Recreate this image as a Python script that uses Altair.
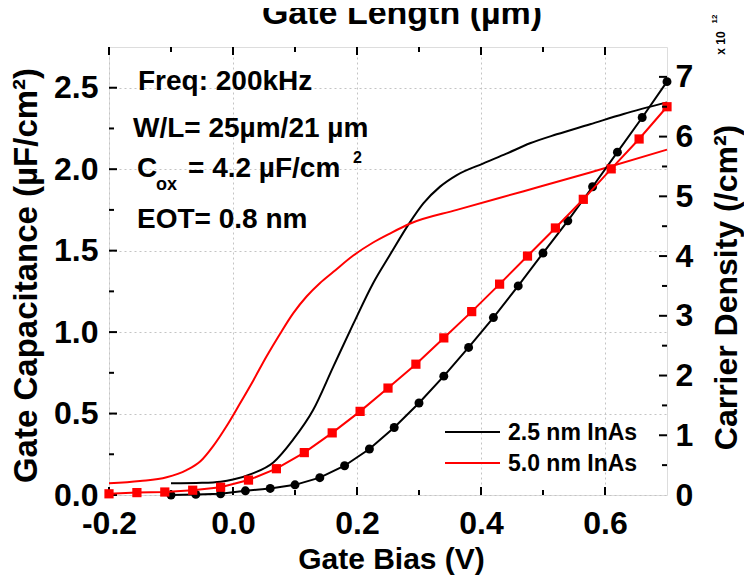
import altair as alt
import pandas as pd

FONT = "Liberation Sans"

# ---------------- data ----------------
SERIES = ["2.5 nm InAs", "5.0 nm InAs"]

# Gate capacitance (left axis, uF/cm2)
CV25_V = [-0.10, -0.05, -0.02, 0.00, 0.032, 0.065, 0.097, 0.129, 0.162, 0.194, 0.226,
          0.253, 0.285, 0.307, 0.334, 0.361, 0.404, 0.441, 0.479, 0.522, 0.576, 0.630, 0.700]
CV25_C = [0.072, 0.075, 0.082, 0.095, 0.133, 0.20, 0.34, 0.52, 0.79, 1.05, 1.30,
          1.473, 1.672, 1.790, 1.893, 1.964, 2.036, 2.095, 2.159, 2.214, 2.276, 2.339, 2.41]

CV50_V = [-0.20, -0.15, -0.107, -0.075, -0.053, -0.032, -0.010, 0.011, 0.033, 0.054, 0.076,
          0.097, 0.119, 0.140, 0.162, 0.194, 0.226, 0.253, 0.285, 0.361, 0.469, 0.576, 0.700]
CV50_C = [0.072, 0.086, 0.109, 0.153, 0.205, 0.30, 0.425, 0.56, 0.705, 0.85, 0.99,
          1.115, 1.22, 1.30, 1.37, 1.47, 1.55, 1.605, 1.665, 1.75, 1.865, 1.98, 2.12]

# Carrier density (right axis, x 1e12 /cm2)
N25_V = [-0.10, -0.06, -0.02, 0.02, 0.06, 0.10, 0.14, 0.18, 0.22, 0.26, 0.30,
         0.34, 0.38, 0.42, 0.46, 0.50, 0.54, 0.58, 0.62, 0.66, 0.70]
N25_N = [0.00, 0.01, 0.02, 0.07, 0.11, 0.17, 0.29, 0.49, 0.77, 1.13, 1.54,
         1.99, 2.47, 2.97, 3.50, 4.05, 4.59, 5.16, 5.74, 6.32, 6.92]

N50_V = [-0.200, -0.155, -0.110, -0.065, -0.020, 0.025, 0.070, 0.115, 0.160, 0.205, 0.250,
         0.295, 0.340, 0.385, 0.430, 0.475, 0.520, 0.565, 0.610, 0.655, 0.700]
N50_N = [0.02, 0.04, 0.05, 0.08, 0.13, 0.25, 0.44, 0.71, 1.04, 1.40, 1.79,
         2.19, 2.63, 3.07, 3.53, 4.00, 4.47, 4.95, 5.46, 5.96, 6.50]

# axis ticks
X_MAJOR = [-0.2, 0.0, 0.2, 0.4, 0.6]
X_MINOR = [-0.1, 0.1, 0.3, 0.5]
C_MAJOR = [0.0, 0.5, 1.0, 1.5, 2.0, 2.5]
C_MINOR = [0.25, 0.75, 1.25, 1.75, 2.25]
N_LABELS = [0, 1, 2, 3, 4, 5, 6, 7]
N_MAJOR = [1, 2, 3, 4, 5, 6, 7]
N_MINOR = [0.5, 1.5, 2.5, 3.5, 4.5, 5.5, 6.5]

# texts
TOP_TITLE = "Gate Length (µm)"
X_TITLE = "Gate Bias (V)"
YL_TITLE = "Gate Capacitance (µF/cm²)"
YR_TITLE = "Carrier Density (/cm²)"
NOTE_FREQ = "Freq: 200kHz"
NOTE_WL = "W/L= 25µm/21 µm"
NOTE_C = "C"
NOTE_OX = "ox"
NOTE_COX = "= 4.2 µF/cm"
NOTE_SUP = "2"
NOTE_EOT = "EOT= 0.8 nm"
EXP_BASE = "x 10"
EXP_POW = "12"

BLACK = "#000000"
RED = "#ff0000"

W, H = 558, 448

xs = alt.Scale(domain=[-0.2, 0.7], nice=False, zero=False)
yl = alt.Scale(domain=[0, 2.75], nice=False, zero=False)
yr = alt.Scale(domain=[0, 7.5], nice=False, zero=False)

one = alt.Data(values=[{}])

cv25 = pd.DataFrame({"v": CV25_V, "c": CV25_C})
cv50 = pd.DataFrame({"v": CV50_V, "c": CV50_C})
n25 = pd.DataFrame({"v": N25_V, "n": N25_N})
n50 = pd.DataFrame({"v": N50_V, "n": N50_N})

x_axis = alt.Axis(
    values=X_MAJOR,
    labelExpr="datum.value < 0 ? '-' + format(-datum.value, '.1f') : format(datum.value, '.1f')",
    labelFont=FONT, labelFontSize=32, labelFontWeight="bold", labelColor="black",
    labelBaseline="alphabetic", labelPadding=38, labelFlush=False, labelOverlap=False,
    ticks=False, tickSize=0, domain=False,
    grid=True, gridDash=[2, 3], gridColor="#c4c4c4", gridWidth=1,
    title=X_TITLE, titleFont=FONT, titleFontSize=30, titleFontWeight="bold",
    titleColor="black", titleX=282, titleY=73, titleAlign="center",
    titleBaseline="alphabetic",
)

yl_axis = alt.Axis(
    values=C_MAJOR, format=".1f",
    labelFont=FONT, labelFontSize=32, labelFontWeight="bold", labelColor="black",
    labelPadding=11, labelOverlap=False, labelFlush=False,
    ticks=False, tickSize=0, domain=False,
    grid=True, gridDash=[2, 3], gridColor="#c4c4c4", gridWidth=1,
    title=YL_TITLE, titleFont=FONT, titleFontSize=33, titleFontWeight="bold",
    titleColor="black", titleAngle=270, titleX=-73, titleY=228,
    titleAlign="center", titleBaseline="alphabetic",
)

yr_axis = alt.Axis(
    orient="right", values=N_LABELS, format="d",
    labelFont=FONT, labelFontSize=32, labelFontWeight="bold", labelColor="black",
    labelPadding=8, labelOverlap=False, labelFlush=False,
    ticks=False, tickSize=0, domain=False, grid=False,
    title=YR_TITLE, titleFont=FONT, titleFontSize=32, titleFontWeight="bold",
    titleColor="black", titleAngle=270, titleX=69, titleY=240,
    titleAlign="center", titleBaseline="alphabetic",
)

X = dict(scale=xs, axis=x_axis)
YL = dict(scale=yl, axis=yl_axis)
YR = dict(scale=yr, axis=yr_axis)

# ---------------- left-scale layer ----------------
line25 = alt.Chart(cv25).mark_line(color=BLACK, strokeWidth=2, interpolate="monotone").encode(
    x=alt.X("v:Q", **X), y=alt.Y("c:Q", **YL))
line50 = alt.Chart(cv50).mark_line(color=RED, strokeWidth=2, interpolate="monotone").encode(
    x=alt.X("v:Q", **X), y=alt.Y("c:Q", **YL))


def xticks(vals, length):
    df = pd.DataFrame({"v": vals})
    bot = alt.Chart(df).mark_rule(color="black", strokeWidth=2).encode(
        x=alt.X("v:Q", **X), y=alt.value(H), y2=alt.value(H - length))
    top = alt.Chart(df).mark_rule(color="black", strokeWidth=2).encode(
        x=alt.X("v:Q", **X), y=alt.value(0), y2=alt.value(length))
    return [bot, top]


def lticks(vals, length):
    df = pd.DataFrame({"v": vals})
    return alt.Chart(df).mark_rule(color="black", strokeWidth=2).encode(
        y=alt.Y("v:Q", **YL), x=alt.value(0), x2=alt.value(length))


def rticks(vals, length):
    df = pd.DataFrame({"v": vals})
    return alt.Chart(df).mark_rule(color="black", strokeWidth=2).encode(
        y=alt.Y("v:Q", **YR), x=alt.value(W), x2=alt.value(W - length))


def label(text, x, y, size, align="left", baseline="alphabetic", angle=0, color="black"):
    kw = dict(font=FONT, fontSize=size, fontWeight="bold", align=align,
              baseline=baseline, color=color)
    if angle:
        kw["angle"] = angle
    return alt.Chart(one).mark_text(**kw).encode(
        x=alt.value(x), y=alt.value(y), text=alt.value(text))


notes = [
    label(NOTE_FREQ, 29, 43, 28),
    label(NOTE_WL, 24, 90, 28),
    label(NOTE_C, 28, 130, 28),
    label(NOTE_OX, 47, 143, 18),
    label(NOTE_COX, 79, 130, 28),
    label(NOTE_SUP, 244, 116, 16),
    label(NOTE_EOT, 28, 181, 28),
    label(TOP_TITLE, 293, -23, 34, align="center"),
    label(EXP_BASE, 612, -4, 12, align="center", baseline="middle", angle=270),
    label(EXP_POW, 606, -28, 8, align="center", baseline="middle", angle=270),
]

legend = [
    alt.Chart(one).mark_rule(color=BLACK, strokeWidth=2).encode(
        x=alt.value(336), x2=alt.value(391), y=alt.value(385)),
    alt.Chart(one).mark_rule(color=RED, strokeWidth=2).encode(
        x=alt.value(336), x2=alt.value(391), y=alt.value(416)),
    label(SERIES[0], 399, 393, 23),
    label(SERIES[1], 399, 424, 23),
]

left_layer = alt.layer(
    line25, line50,
    *xticks(X_MAJOR, 8), *xticks(X_MINOR, 5),
    lticks(C_MAJOR, 8), lticks(C_MINOR, 5),
    *notes, *legend,
)

# ---------------- right-scale layer ----------------
dens25 = alt.Chart(n25).mark_line(
    color=BLACK, strokeWidth=2,
    point=alt.OverlayMarkDef(filled=True, shape="circle", size=80, color=BLACK, opacity=1),
).encode(x=alt.X("v:Q", **X), y=alt.Y("n:Q", **YR))
dens50 = alt.Chart(n50).mark_line(
    color=RED, strokeWidth=2,
    point=alt.OverlayMarkDef(filled=True, shape="square", size=85, color=RED, opacity=1),
).encode(x=alt.X("v:Q", **X), y=alt.Y("n:Q", **YR))

right_layer = alt.layer(
    dens25, dens50,
    rticks(N_MAJOR, 8), rticks(N_MINOR, 5),
)

chart = alt.layer(left_layer, right_layer).resolve_scale(y="independent").properties(
    width=W, height=H,
    padding={"left": 101, "top": 39, "right": 77, "bottom": 81},
    autosize=alt.AutoSizeParams(type="none"),
).configure_view(stroke="black", strokeWidth=2).configure(font=FONT, background="white")

chart.save("out.html", embed_options={"renderer": "svg", "actions": False})
